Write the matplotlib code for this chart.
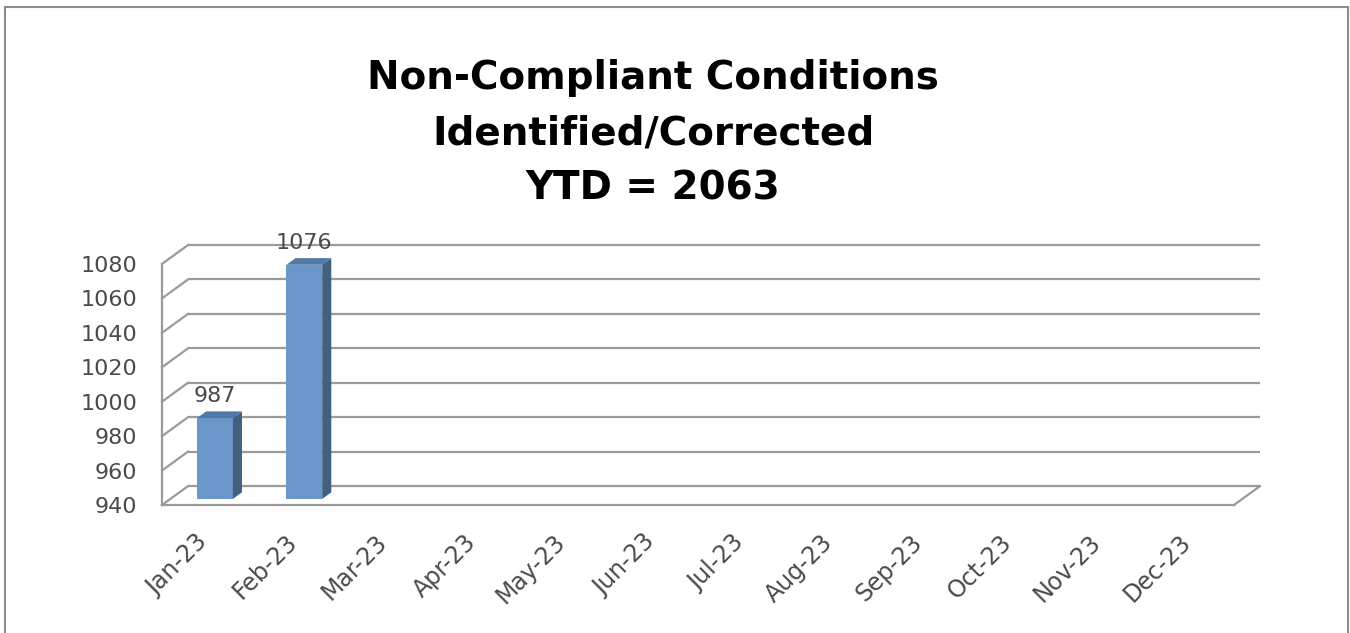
import matplotlib
matplotlib.use("Agg")
import matplotlib.pyplot as plt
from matplotlib.patches import Polygon, Rectangle
from matplotlib.transforms import ScaledTranslation

# ---- data ----
months = ["Jan-23", "Feb-23", "Mar-23", "Apr-23", "May-23", "Jun-23",
          "Jul-23", "Aug-23", "Sep-23", "Oct-23", "Nov-23", "Dec-23"]
values = [987, 1076]
y_ticks = [940, 960, 980, 1000, 1020, 1040, 1060, 1080]
title_lines = ["Non-Compliant Conditions", "Identified/Corrected", "YTD = 2063"]

# ---- style ----
W_PX, H_PX, DPI = 1350, 633, 100
grid_col = "#9a9a9a"
text_col = "#4a4a4a"
front_col = "#6a97c9"
side_col = "#42607f"
top_col = "#5079a8"

n = len(months)
ymin, ymax = y_ticks[0], y_ticks[-1]
DX = 26 / 89.25      # depth offset in category units
DY = 11.0            # depth offset in value units
f_depth = 0.32       # bar front position in depth
d_depth = 0.35       # bar depth
bar_w = 0.40

fig = plt.figure(figsize=(W_PX / DPI, H_PX / DPI), dpi=DPI)
left_px, right_px = 162, 1260
bottom_px, top_px = 505, 245
ax = fig.add_axes([left_px / W_PX, (H_PX - bottom_px) / H_PX,
                   (right_px - left_px) / W_PX, (bottom_px - top_px) / H_PX])
ax.set_xlim(0, n + DX)
ax.set_ylim(ymin, ymax + DY)
for s in ax.spines.values():
    s.set_visible(False)
ax.patch.set_visible(False)

lw = 1.6
# back wall gridlines and side wall diagonals
for v in y_ticks:
    ax.plot([DX, n + DX], [v + DY, v + DY], color=grid_col, lw=lw, zorder=1,
            solid_capstyle="butt", clip_on=False)
    ax.plot([0, DX], [v, v + DY], color=grid_col, lw=lw, zorder=1, clip_on=False)
# front vertical edge of side wall
ax.plot([0, 0], [ymin, ymax], color=grid_col, lw=lw, zorder=1, clip_on=False)
# floor front edge and right diagonal
ax.plot([0, n], [ymin, ymin], color=grid_col, lw=lw, zorder=1, clip_on=False)
ax.plot([n, n + DX], [ymin, ymin + DY], color=grid_col, lw=lw, zorder=1, clip_on=False)

# bars
for i, v in enumerate(values):
    x0 = i + 0.5 - bar_w / 2 + f_depth * DX
    x1 = x0 + bar_w
    yb = ymin + f_depth * DY
    yt = v + f_depth * DY
    ddx, ddy = d_depth * DX, d_depth * DY
    front = Polygon([(x0, yb), (x1, yb), (x1, yt), (x0, yt)], closed=True,
                    fc=front_col, ec="none", zorder=3, clip_on=False)
    side = Polygon([(x1, yb), (x1 + ddx, yb + ddy), (x1 + ddx, yt + ddy), (x1, yt)],
                   closed=True, fc=side_col, ec="none", zorder=3, clip_on=False)
    top = Polygon([(x0, yt), (x1, yt), (x1 + ddx, yt + ddy), (x0 + ddx, yt + ddy)],
                  closed=True, fc=top_col, ec="none", zorder=3, clip_on=False)
    for p in (front, side, top):
        ax.add_patch(p)
    ax.annotate(str(v), xy=((x0 + x1) / 2, yt + ddy), xytext=(0, 6.5),
                textcoords="offset points", ha="center", va="baseline",
                fontsize=16, color=text_col, zorder=4, annotation_clip=False)

# y ticks
ax.set_yticks(y_ticks)
ax.set_yticklabels([str(t) for t in y_ticks])
ax.tick_params(axis="y", length=0, pad=18, labelsize=16, labelcolor=text_col)

# x ticks
ax.set_xticks([i + 0.5 for i in range(n)])
ax.set_xticklabels(months, rotation=45, ha="right", va="top")
ax.tick_params(axis="x", length=0, pad=18, labelsize=17, labelcolor=text_col)
for lbl in ax.get_xticklabels():
    lbl.set_transform(lbl.get_transform() + ScaledTranslation(6 / DPI, 0, fig.dpi_scale_trans))

# title
for line, yc in zip(title_lines, [78, 133, 188]):
    fig.text(653 / W_PX, 1 - yc / H_PX, line, ha="center", va="center",
             fontsize=28, fontweight="bold", color="black")

# outer border
fig.add_artist(Rectangle((4.5 / W_PX, -0.05), (1347.5 - 4.5) / W_PX,
                         1 - 7.5 / H_PX + 0.05, transform=fig.transFigure,
                         fill=False, ec="#8c8c8c", lw=1.5))

fig.savefig("out.png", dpi=DPI, facecolor="white")
